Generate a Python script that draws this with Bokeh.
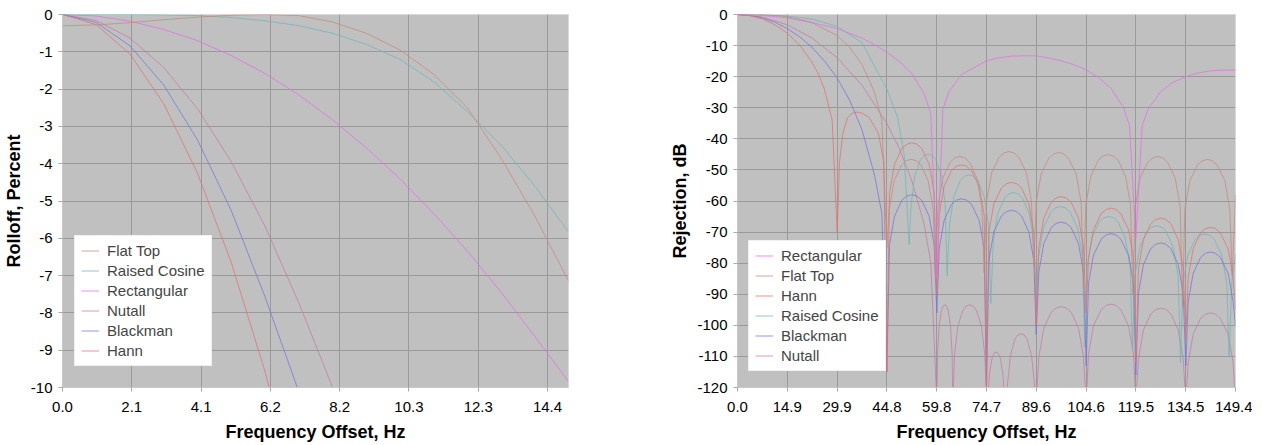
from bokeh.plotting import figure
from bokeh.layouts import row
from bokeh.models import Range1d, FixedTicker, PrintfTickFormatter, Legend, LegendItem
from bokeh.embed import file_html
from bokeh.resources import INLINE

FONT = "Liberation Sans"

COLORS = {
    "Flat Top": "#C48A7C",
    "Raised Cosine": "#6FB5B5",
    "Rectangular": "#E46EE4",
    "Nutall": "#C27BA6",
    "Blackman": "#7474DC",
    "Hann": "#E07272",
}
ALPHA = 0.75

# ---------------- left chart: rolloff, percent ----------------
L_X_TICKS = [0, 2.054, 4.108, 6.162, 8.216, 10.27, 12.324, 14.378]
L_Y_TICKS = [0, -1, -2, -3, -4, -5, -6, -7, -8, -9, -10]

FLAT_X = [0, 1, 2, 3, 4, 5, 6, 7, 8, 9, 10, 11, 12, 13, 14, 15]
FLAT_Y = [-0.3, -0.28, -0.22, -0.14, -0.07, -0.02, 0, -0.03, -0.2, -0.5, -0.95, -1.6, -2.5, -3.85, -5.4, -7.14]
RCOS_X = [0, 1, 2, 3, 4, 5, 6, 7, 8, 9, 10, 11, 12, 13, 14, 15]
RCOS_Y = [0, 0, 0, -0.01, -0.03, -0.08, -0.17, -0.3, -0.5, -0.8, -1.2, -1.8, -2.6, -3.5, -4.6, -5.83]
RECT_X = [0, 1, 2, 3, 4, 5, 6, 7, 8, 9, 10, 11, 12, 13, 14, 15]
RECT_Y = [0, -0.04, -0.18, -0.4, -0.7, -1.1, -1.58, -2.15, -2.82, -3.57, -4.4, -5.33, -6.34, -7.44, -8.63, -9.84]
NUT_X = [0, 1, 2, 3, 4, 5, 6, 7, 8, 9]
NUT_Y = [0, -0.16, -0.63, -1.42, -2.52, -3.94, -5.67, -7.72, -9.98, -12.7]
BLK_X = [0, 1, 2, 3, 4, 5, 6, 7, 8]
BLK_Y = [0, -0.21, -0.84, -1.89, -3.36, -5.25, -7.56, -10.1, -13.2]
HANN_X = [0, 1, 2, 3, 4, 5, 6, 7]
HANN_Y = [0, -0.27, -1.06, -2.39, -4.25, -6.64, -9.56, -13.0]

# ---------------- right chart: rejection, dB ----------------
R_X_TICKS = [0, 14.94, 29.88, 44.82, 59.76, 74.7, 89.64, 104.58, 119.52, 134.46, 149.4]
R_Y_TICKS = [0, -10, -20, -30, -40, -50, -60, -70, -80, -90, -100, -110, -120]

# sidelobe sample positions between the nulls at 44.8, 59.8, ... 149.4 Hz
GRID_LOBE_X = [45.6, 47.1, 49.3, 50.8, 52.3, 53.8, 55.3, 57.5, 59.0, 59.8,
               60.5, 62.0, 64.2, 65.7, 67.2, 68.7, 70.2, 72.5, 74.0, 74.7,
               75.4, 76.9, 79.2, 80.7, 82.2, 83.7, 85.2, 87.4, 88.9, 89.6,
               90.4, 91.9, 94.1, 95.6, 97.1, 98.6, 100.1, 102.3, 103.8, 104.6,
               105.3, 106.8, 109.1, 110.6, 112.1, 113.5, 115.0, 117.3, 118.8, 119.5,
               120.3, 121.8, 124.0, 125.5, 127.0, 128.5, 130.0, 132.2, 133.7, 134.5,
               135.2, 136.7, 138.9, 140.4, 141.9, 143.4, 144.9, 147.2, 148.7, 149.4]

DB_RECT_X = [0, 7.5, 14.9, 22.4, 29.9, 37.3, 41.1, 44.8, 48.5, 52.3, 56.0, 58.0, 59.8,
             61.6, 63.5, 67.2, 74.7, 78.4, 82.2, 85.9, 89.6, 93.4, 97.1, 100.8, 104.6, 108.3,
             112.0, 115.8, 117.6, 119.5,
             121.4, 123.2, 127.0, 130.7, 134.5, 138.2, 142.0, 145.6, 149.4]
DB_RECT_Y = [0, -0.3, -1.1, -2.6, -4.5, -7.6, -9.7, -12.2, -15.0, -19.0, -25.5, -32.0, -85.0,
             -30.4, -24.7, -19.3, -14.9, -13.9, -13.4, -13.3, -13.3, -14.0, -14.9, -16.1, -17.8, -20.2,
             -23.7, -29.9, -35.8, -72.0,
             -35.8, -30.4, -24.8, -21.8, -20.0, -18.8, -18.1, -17.9, -17.9]

DB_HANN_X = [0, 3.7, 7.5, 11.2, 14.9, 18.7, 22.4, 24.3, 26.1, 28.4, 29.9,
             30.6, 31.6, 33.0, 34.4, 35.8, 37.5, 39.5, 42.3, 43.9, 44.8] + GRID_LOBE_X
DB_HANN_Y = [0, -0.35, -1.4, -3.3, -6.0, -9.9, -15.4, -19.2, -24.1, -34.0, -70.0,
             -47.5, -38.3, -33.2, -31.8, -31.4, -31.8, -33.2, -38.3, -47.5, -115.0,
             -57.4, -48.2, -43.1, -41.7, -41.3, -41.7, -43.1, -48.2, -57.4, -90.0,
             -64.5, -55.3, -50.2, -48.8, -48.4, -48.8, -50.2, -55.3, -64.5, -120.0,
             -70.1, -60.9, -55.8, -54.4, -54.0, -54.4, -55.8, -60.9, -70.1, -100.0,
             -74.7, -65.5, -60.4, -59.0, -58.6, -59.0, -60.4, -65.5, -74.7, -96.0,
             -78.4, -69.2, -64.1, -62.7, -62.3, -62.7, -64.1, -69.2, -78.4, -112.0,
             -81.6, -72.4, -67.3, -65.9, -65.5, -65.9, -67.3, -72.4, -81.6, -104.0,
             -84.6, -75.4, -70.3, -68.9, -68.5, -68.9, -70.3, -75.4, -84.6, -95.0]

DB_BLK_X = [0, 3.7, 7.5, 11.2, 14.9, 18.7, 22.4, 26.1, 29.9, 33.6, 37.3, 41.1, 43.3, 44.8] + GRID_LOBE_X
DB_BLK_Y = [0, -0.3, -1.1, -2.5, -4.5, -7.2, -10.6, -15.0, -20.4, -27.5, -36.9, -51.6, -64.0, -115.0,
            -74.1, -64.9, -59.8, -58.4, -58.0, -58.4, -59.8, -64.9, -74.1, -96.0,
            -75.4, -66.2, -61.1, -59.7, -59.3, -59.7, -61.1, -66.2, -75.4, -120.0,
            -79.1, -69.9, -64.8, -63.4, -63.0, -63.4, -64.8, -69.9, -79.1, -103.0,
            -82.9, -73.7, -68.6, -67.2, -66.8, -67.2, -68.6, -73.7, -82.9, -113.0,
            -86.6, -77.4, -72.3, -70.9, -70.5, -70.9, -72.3, -77.4, -86.6, -116.0,
            -89.6, -80.4, -75.3, -73.9, -73.5, -73.9, -75.3, -80.4, -89.6, -113.0,
            -92.5, -83.3, -78.2, -76.8, -76.4, -76.8, -78.2, -83.3, -92.5, -100.0]

DB_FLAT_X = [0, 7.5, 14.9, 22.4, 29.9, 33.6, 37.3, 41.1, 43.3, 44.8,
             45.5, 47.0, 49.2, 50.6, 52.1, 53.6, 55.0, 57.2, 58.7, 59.4,
             60.1, 61.6, 63.8, 65.2, 66.7, 68.2, 69.6, 71.8, 73.3, 74.0,
             74.7, 76.2, 78.5, 80.0, 81.5, 82.9, 84.4, 86.7, 88.2, 88.9,
             89.6, 91.1, 93.4, 94.9, 96.4, 97.8, 99.3, 101.6, 103.1, 103.8,
             104.5, 106.0, 108.2, 109.7, 111.2, 112.7, 114.2, 116.4, 117.9, 118.6,
             119.3, 120.8, 123.1, 124.6, 126.1, 127.5, 129.0, 131.3, 132.8, 133.5,
             134.2, 135.7, 138.0, 139.5, 141.0, 142.4, 143.9, 146.2, 147.7, 148.4, 149.4]
DB_FLAT_Y = [-0.03, 0, -0.64, -2.6, -6.8, -10.5, -16.0, -25.0, -34.0, -75.0,
             -62.7, -53.5, -48.4, -47.0, -46.6, -47.0, -48.4, -53.5, -62.7, -85.0,
             -61.8, -52.6, -47.5, -46.1, -45.7, -46.1, -47.5, -52.6, -61.8, -83.0,
             -60.2, -51.0, -45.9, -44.5, -44.1, -44.5, -45.9, -51.0, -60.2, -81.0,
             -60.5, -51.3, -46.2, -44.8, -44.4, -44.8, -46.2, -51.3, -60.5, -88.0,
             -61.2, -52.0, -46.9, -45.5, -45.1, -45.5, -46.9, -52.0, -61.2, -90.0,
             -61.8, -52.6, -47.5, -46.1, -45.7, -46.1, -47.5, -52.6, -61.8, -94.0,
             -62.7, -53.5, -48.4, -47.0, -46.6, -47.0, -48.4, -53.5, -62.7, -84.0, -58.0]

DB_RCOS_X = [0, 7.5, 14.9, 22.4, 29.9, 37.3, 44.8, 48.0, 50.0, 51.5,
             52.1, 53.2, 54.9, 56.1, 57.2, 58.3, 59.5, 61.2, 62.3, 62.9,
             63.6, 64.9, 66.8, 68.1, 69.5, 70.8, 72.1, 74.0, 75.3, 76.0,
             76.7, 78.0, 80.1, 81.4, 82.8, 84.2, 85.5, 87.6, 88.9, 89.6,
             90.3, 91.8, 94.0, 95.4, 96.9, 98.4, 99.8, 102.0, 103.5, 104.2,
             104.9, 106.3, 108.5, 109.9, 111.4, 112.8, 114.2, 116.3, 117.8, 118.5,
             119.2, 120.7, 122.8, 124.3, 125.7, 127.1, 128.6, 130.7, 132.2, 132.9,
             133.6, 135.1, 137.3, 138.7, 140.2, 141.7, 143.1, 145.3, 146.8, 147.5, 148.3, 149.4]
DB_RCOS_Y = [0, -0.13, -0.52, -1.5, -3.8, -9.0, -24.0, -33.0, -45.0, -74.0,
             -61.0, -51.8, -46.7, -45.3, -44.9, -45.3, -46.7, -51.8, -61.0, -84.0,
             -67.7, -58.5, -53.4, -52.0, -51.6, -52.0, -53.4, -58.5, -67.7, -93.0,
             -73.4, -64.2, -59.1, -57.7, -57.3, -57.7, -59.1, -64.2, -73.4, -90.0,
             -77.9, -68.7, -63.6, -62.2, -61.8, -62.2, -63.6, -68.7, -77.9, -107.0,
             -81.1, -71.9, -66.8, -65.4, -65.0, -65.4, -66.8, -71.9, -81.1, -108.0,
             -84.1, -74.9, -69.8, -68.4, -68.0, -68.4, -69.8, -74.9, -84.1, -112.0,
             -86.7, -77.5, -72.4, -71.0, -70.6, -71.0, -72.4, -77.5, -86.7, -110.0, -86.0, -77.3]

DB_NUT_X = [0, 7.5, 14.9, 22.4, 29.9, 37.3, 44.8, 48.6, 52.3, 56.0, 58.0, 59.8,
            60.0, 60.5, 61.2, 61.7, 62.2, 62.7, 63.2, 63.9, 64.4, 64.6,
            65.1, 66.1, 67.6, 68.6, 69.7, 70.7, 71.7, 73.2, 74.2, 74.7,
            75.0, 75.6, 76.4, 77.0, 77.6, 78.2, 78.8, 79.6, 80.2, 80.5,
            81.0, 81.9, 83.2, 84.1, 85.1, 86.0, 86.9, 88.2, 89.1, 89.6,
            90.4, 91.9, 94.1, 95.6, 97.1, 98.6, 100.1, 102.3, 103.8, 104.6,
            105.3, 106.8, 109.1, 110.6, 112.1, 113.5, 115.0, 117.3, 118.8, 119.5,
            120.3, 121.8, 124.0, 125.5, 127.0, 128.5, 130.0, 132.2, 133.7, 134.5,
            135.2, 136.7, 138.9, 140.4, 141.9, 143.4, 144.9, 147.2, 148.7, 149.4]
DB_NUT_Y = [0, -0.8, -3.3, -7.6, -13.9, -22.7, -35.0, -43.2, -53.5, -67.5, -80.0, -125.0,
            -109.5, -100.3, -95.2, -93.8, -93.4, -93.8, -95.2, -100.3, -109.5, -125.0,
            -109.5, -100.3, -95.2, -93.8, -93.4, -93.8, -95.2, -100.3, -109.5, -125.0,
            -124.7, -115.5, -110.4, -109.0, -108.6, -109.0, -110.4, -115.5, -124.7, -125.0,
            -118.8, -109.6, -104.5, -103.1, -102.7, -103.1, -104.5, -109.6, -118.8, -125.0,
            -110.1, -100.9, -95.8, -94.4, -94.0, -94.4, -95.8, -100.9, -110.1, -125.0,
            -109.3, -100.1, -95.0, -93.6, -93.2, -93.6, -95.0, -100.1, -109.3, -125.0,
            -110.6, -101.4, -96.3, -94.9, -94.5, -94.9, -96.3, -101.4, -110.6, -125.0,
            -112.1, -102.9, -97.8, -96.4, -96.0, -96.4, -97.8, -102.9, -112.1, -125.0]


def style(p, xlabel, ylabel, xticks, yticks):
    p.background_fill_color = "#C0C0C0"
    p.border_fill_color = "white"
    p.outline_line_color = "#D9D9D9"
    p.xgrid.grid_line_color = "#9A9A9A"
    p.ygrid.grid_line_color = "#9A9A9A"
    p.xaxis.ticker = FixedTicker(ticks=xticks)
    p.yaxis.ticker = FixedTicker(ticks=yticks)
    p.xaxis.formatter = PrintfTickFormatter(format="%.1f")
    p.yaxis.formatter = PrintfTickFormatter(format="%d")
    p.xaxis.axis_label = xlabel
    p.yaxis.axis_label = ylabel
    for ax in (p.xaxis[0], p.yaxis[0]):
        ax.axis_line_color = "#C8C8C8"
        ax.major_tick_line_color = "#A8A8A8"
        ax.major_tick_out = 4
        ax.major_tick_in = 0
        ax.minor_tick_line_color = None
        ax.major_label_text_font = FONT
        ax.major_label_text_font_size = "15px"
        ax.major_label_text_color = "black"
        ax.axis_label_text_font = FONT
        ax.axis_label_text_font_size = "18px"
        ax.axis_label_text_font_style = "bold"
        ax.axis_label_text_color = "black"
    p.xaxis.major_label_standoff = 10
    p.yaxis.major_label_standoff = 6
    p.xaxis.axis_label_standoff = 7
    p.yaxis.axis_label_standoff = 4


def add_legend(p, pairs, loc):
    items = [LegendItem(label=name, renderers=[r]) for name, r in pairs]
    lg = Legend(items=items, location=loc)
    lg.background_fill_color = "white"
    lg.background_fill_alpha = 1.0
    lg.border_line_color = "#E2E2E2"
    lg.label_text_font = FONT
    lg.label_text_font_size = "15px"
    lg.glyph_width = 18
    lg.glyph_height = 17
    lg.label_height = 17
    lg.spacing = 3
    lg.padding = 6
    lg.margin = 0
    lg.label_standoff = 8
    p.add_layout(lg, "center")


def draw(p, x, y, name):
    return p.line(x, y, line_color=COLORS[name], line_width=1, line_alpha=ALPHA)


left = figure(frame_width=506, frame_height=373, min_border_left=56, min_border_right=70,
              min_border_top=14, min_border_bottom=50,
              x_range=Range1d(0, 15.0), y_range=Range1d(-10, 0),
              output_backend="svg", toolbar_location=None)
style(left, "Frequency Offset, Hz", "Rolloff, Percent", L_X_TICKS, L_Y_TICKS)
lr = {}
lr["Rectangular"] = draw(left, RECT_X, RECT_Y, "Rectangular")
lr["Raised Cosine"] = draw(left, RCOS_X, RCOS_Y, "Raised Cosine")
lr["Flat Top"] = draw(left, FLAT_X, FLAT_Y, "Flat Top")
lr["Nutall"] = draw(left, NUT_X, NUT_Y, "Nutall")
lr["Blackman"] = draw(left, BLK_X, BLK_Y, "Blackman")
lr["Hann"] = draw(left, HANN_X, HANN_Y, "Hann")
add_legend(left, [(n, lr[n]) for n in ["Flat Top", "Raised Cosine", "Rectangular", "Nutall", "Blackman", "Hann"]], (12, 21))

right = figure(frame_width=498, frame_height=373, min_border_left=99, min_border_right=17,
               min_border_top=14, min_border_bottom=50,
               x_range=Range1d(0, 149.4), y_range=Range1d(-120, 0),
               output_backend="svg", toolbar_location=None)
style(right, "Frequency Offset, Hz", "Rejection, dB", R_X_TICKS, R_Y_TICKS)
rr = {}
rr["Nutall"] = draw(right, DB_NUT_X, DB_NUT_Y, "Nutall")
rr["Raised Cosine"] = draw(right, DB_RCOS_X, DB_RCOS_Y, "Raised Cosine")
rr["Blackman"] = draw(right, DB_BLK_X, DB_BLK_Y, "Blackman")
rr["Flat Top"] = draw(right, DB_FLAT_X, DB_FLAT_Y, "Flat Top")
rr["Hann"] = draw(right, DB_HANN_X, DB_HANN_Y, "Hann")
rr["Rectangular"] = draw(right, DB_RECT_X, DB_RECT_Y, "Rectangular")
add_legend(right, [(n, rr[n]) for n in ["Rectangular", "Flat Top", "Hann", "Raised Cosine", "Blackman", "Nutall"]], (11, 16))

layout = row(left, right)
open("out.html", "w").write(file_html(layout, INLINE))
